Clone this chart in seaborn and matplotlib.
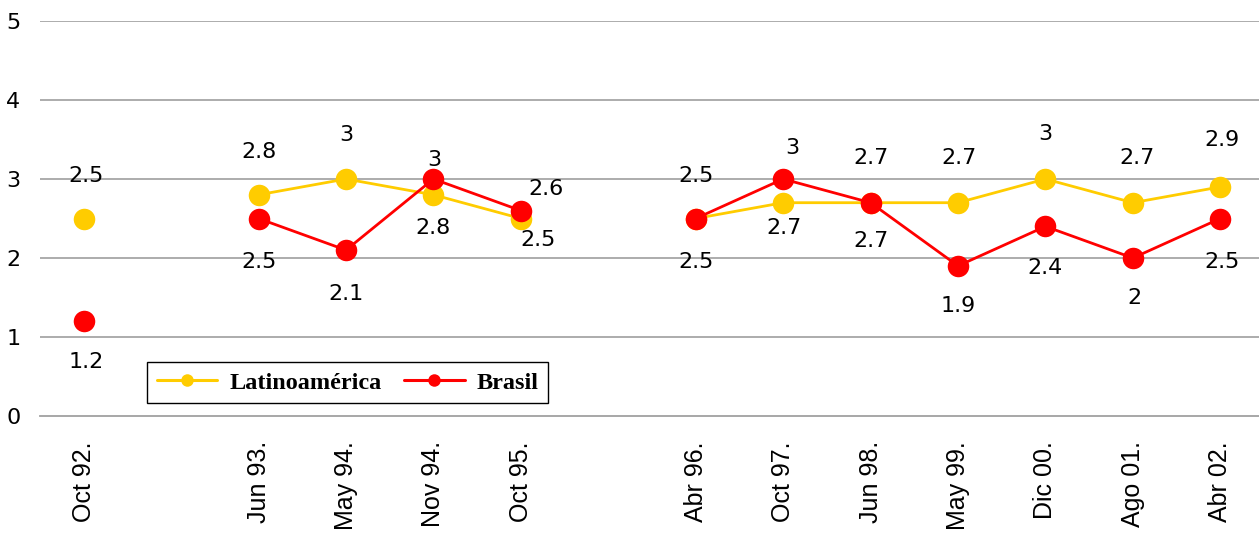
import numpy as np
import pandas as pd
import matplotlib
matplotlib.use("Agg")
import matplotlib.pyplot as plt
from matplotlib.lines import Line2D
import seaborn as sns

# ---- data ----
categories = ["Oct 92.", "", "Jun 93.", "May 94.", "Nov 94.", "Oct 95.", "",
              "Abr 96.", "Oct 97.", "Jun 98.", "May 99.", "Dic 00.", "Ago 01.", "Abr 02."]
latam = [2.5, None, 2.8, 3.0, 2.8, 2.5, None, 2.5, 2.7, 2.7, 2.7, 3.0, 2.7, 2.9]
brasil = [1.2, None, 2.5, 2.1, 3.0, 2.6, None, 2.5, 3.0, 2.7, 1.9, 2.4, 2.0, 2.5]
series_names = ["Latinoamérica", "Brasil"]
y_ticks = [0, 1, 2, 3, 4, 5]

# ---- layout / style (label offsets in pixels) ----
colors = {"Latinoamérica": "#FFCC00", "Brasil": "#FF0000"}
lat_off = [(2, 42), None, (0, 43), (0, 44), (0, -33), (17, -22), None,
           (0, -44), (1, -25), (0, 45), (1, 45), (0, 45), (4, 45), (2, 47)]
bra_off = [(2, -41), None, (0, -44), (0, -44), (1, 19), (25, 22), None,
           (0, 43), (9, 31), (0, -38), (0, -40), (0, -42), (2, -40), (2, -44)]

# build long table with segments broken at blank categories
rows = []
for name, vals in zip(series_names, [latam, brasil]):
    seg = 0
    for i, v in enumerate(vals):
        if v is None:
            seg += 1
            continue
        rows.append({"x": i, "value": v, "series": name, "segment": f"{name}-{seg}"})
df = pd.DataFrame(rows)

sns.set_style("white")
plt.rcParams["text.color"] = "black"
plt.rcParams["xtick.color"] = "black"
plt.rcParams["ytick.color"] = "black"
plt.rcParams["xtick.labelcolor"] = "black"
plt.rcParams["ytick.labelcolor"] = "black"

W, H = 1259, 542
fig = plt.figure(figsize=(W / 100, H / 100), dpi=100)
ax = fig.add_axes([40 / W, 126 / H, 1224 / W, 395 / H])

sns.lineplot(data=df, x="x", y="value", hue="series", hue_order=series_names,
             units="segment", estimator=None, palette=colors, marker="o",
             markersize=15.5, markeredgewidth=0, linewidth=2.0, legend=False,
             sort=True, ax=ax)

# data labels
for vals, offs in [(latam, lat_off), (brasil, bra_off)]:
    for i, v in enumerate(vals):
        if v is None:
            continue
        dx, dy = offs[i]
        ax.annotate(f"{v:g}", (i, v), xytext=(dx, dy), textcoords="offset pixels",
                    ha="center", va="center", fontsize=16, color="black",
                    family="DejaVu Sans")

ax.set_xlim(-0.5, len(categories) - 0.5)
ax.set_ylim(0, 5)
ax.set_yticks(y_ticks)
ax.set_yticklabels([str(t) for t in y_ticks], fontsize=16, family="DejaVu Sans",
                   color="black")
ax.tick_params(axis="y", length=0, pad=14)
ax.set_xticks(range(len(categories)))
ax.set_xticklabels(categories, rotation=90, fontsize=18, family="Liberation Sans",
                   color="black")
ax.set_xticks(np.arange(-0.5, len(categories), 1.0), minor=True)
ax.tick_params(axis="x", which="major", length=0, pad=18)
ax.tick_params(axis="x", which="minor", length=8, width=1.2, color="#A0A0A0", direction="out")
ax.set_xlabel("")
ax.set_ylabel("")

for y in y_ticks[1:]:
    ax.axhline(y, color="#A6A6A6", linewidth=1.3, zorder=0)
for s in ["top", "right", "left"]:
    ax.spines[s].set_visible(False)
ax.spines["bottom"].set_color("#A0A0A0")
ax.spines["bottom"].set_linewidth(1.3)

handles = [Line2D([0], [0], color=colors[n], lw=2.2, marker="o", markersize=9,
                  markeredgewidth=0) for n in series_names]
leg = fig.legend(handles, series_names, loc="upper left",
                 bbox_to_anchor=(147 / W, 1 - 362 / H), ncol=2,
                 prop={"family": "Liberation Serif", "weight": "bold", "size": 17.5},
                 frameon=True, fancybox=False, edgecolor="black", framealpha=1,
                 handlelength=2.5, handletextpad=0.5, columnspacing=0.9,
                 borderpad=0.4, borderaxespad=0)
leg.get_frame().set_linewidth(1.0)
for t in leg.get_texts():
    t.set_color("black")

fig.savefig("out.png", dpi=100)
